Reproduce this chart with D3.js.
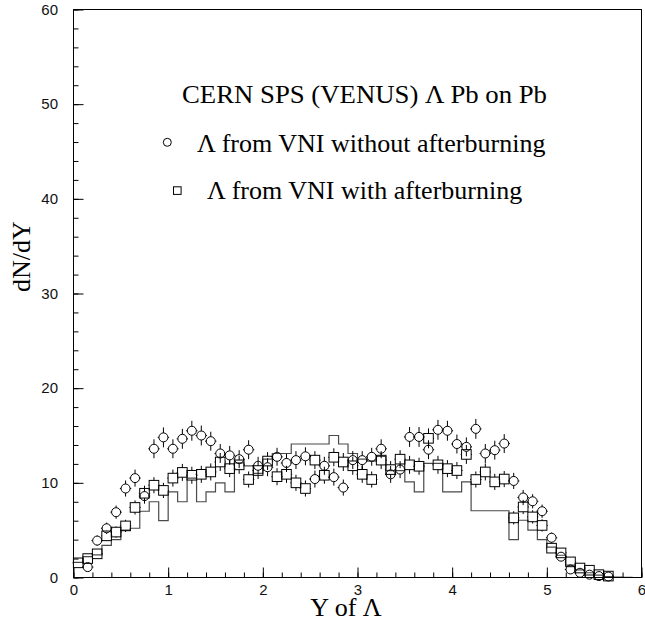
<!DOCTYPE html>
<html><head><meta charset="utf-8">
<script src="https://cdn.jsdelivr.net/npm/d3@7/dist/d3.min.js"></script>
<style>body{margin:0;background:#fff} svg{display:block}</style>
</head><body>
<svg id="c" width="645" height="624"></svg>
<script>
// ---- data ----
const circleX = [0.15,0.25,0.35,0.45,0.55,0.65,0.75,0.85,0.95,1.05,1.15,1.25,1.35,1.45,1.55,1.65,1.75,1.85,1.95,2.05,2.15,2.25,2.35,2.45,2.55,2.65,2.75,2.85,2.95,3.05,3.15,3.25,3.35,3.45,3.55,3.65,3.75,3.85,3.95,4.05,4.15,4.25,4.35,4.45,4.55,4.65,4.75,4.85,4.95,5.05,5.15,5.25,5.35,5.45,5.55,5.65];
const circleY = [1.1,3.9,5.2,6.9,9.4,10.5,8.6,13.6,14.8,13.6,14.65,15.5,15.0,14.4,13.1,12.9,12.5,13.5,11.8,11.65,12.75,12.1,12.4,12.8,10.4,11.8,10.6,9.5,12.4,12.4,12.75,13.6,10.9,11.4,14.85,14.85,13.5,15.6,15.5,14.1,13.8,15.7,13.1,13.45,14.15,10.2,8.45,8.05,7.0,4.2,2.2,0.85,0.5,0.3,0.15,0.1];
const circleErr = [0.3,0.55,0.6,0.7,0.85,0.9,0.8,1.0,1.05,1.0,1.05,1.05,1.05,1.0,1.0,1.0,0.95,1.0,0.95,0.95,0.95,0.95,0.95,0.95,0.9,0.95,0.9,0.85,0.95,0.95,0.95,1.0,0.9,0.9,1.05,1.05,1.0,1.05,1.05,1.0,1.0,1.05,1.0,1.0,1.0,0.85,0.8,0.75,0.7,0.55,0.4,0.25,0.2,0.15,0.1,0.1];

const squareX = [0.05,0.15,0.25,0.35,0.45,0.55,0.65,0.75,0.85,0.95,1.05,1.15,1.25,1.35,1.45,1.55,1.65,1.75,1.85,1.95,2.05,2.15,2.25,2.35,2.45,2.55,2.65,2.75,2.85,2.95,3.05,3.15,3.25,3.35,3.45,3.55,3.65,3.75,3.85,3.95,4.05,4.15,4.25,4.35,4.45,4.55,4.65,4.75,4.85,4.95,5.05,5.15,5.25,5.35,5.45,5.55,5.65];
const squareY = [1.55,2.0,2.5,4.4,4.8,5.45,7.4,8.9,9.75,9.2,10.5,11.1,10.8,10.9,11.15,12.2,11.5,11.9,10.35,11.3,12.3,10.65,10.9,10.0,9.4,12.4,10.8,12.7,12.2,11.8,10.9,10.35,12.4,11.4,12.5,11.9,11.75,14.7,11.9,11.5,11.3,13.0,10.35,11.15,10.1,10.4,6.3,7.45,6.4,5.5,3.1,2.6,1.65,1.0,0.77,0.3,0.15];
const squareErr = [0.35,0.4,0.45,0.55,0.6,0.65,0.75,0.8,0.85,0.8,0.9,0.9,0.9,0.9,0.9,0.95,0.9,0.95,0.85,0.9,0.95,0.9,0.9,0.85,0.85,0.95,0.9,0.95,0.95,0.95,0.9,0.85,0.95,0.9,0.95,0.95,0.9,1.05,0.95,0.9,0.9,1.0,0.85,0.9,0.85,0.85,0.7,0.75,0.7,0.65,0.5,0.45,0.35,0.3,0.25,0.15,0.1];

const histLow = [0.0,0.1,0.2,0.3,0.4,0.5,0.6,0.7,0.8,0.9,1.0,1.1,1.2,1.3,1.4,1.5,1.6,1.7,1.8,1.9,2.0,2.1,2.2,2.3,2.4,2.5,2.6,2.7,2.8,2.9,3.0,3.1,3.2,3.3,3.4,3.5,3.6,3.7,3.8,3.9,4.0,4.1,4.2,4.3,4.4,4.5,4.6,4.7,4.8,4.9,5.0,5.1,5.2,5.3,5.4,5.5,5.6,5.7,5.8,5.9];
const histVal = [1.6,2.2,2.4,3.4,4.0,5.0,5.2,7.0,8.0,6.0,9.05,8.0,10.5,8.0,9.05,10.0,9.05,12.1,11.8,11.0,12.5,13.1,13.1,14.1,14.1,14.1,14.1,15.0,14.1,13.1,12.5,12.3,12.8,11.3,11.3,10.1,9.05,12.05,12.05,9.05,9.05,10.1,7.05,7.05,7.05,7.05,4.0,6.05,5.0,4.0,3.2,2.35,1.3,0.8,0.5,0.25,0.1,0.05,0.02,0.0];
const histHigh = 6.0;
const xErrHalf = 0.06;

const xMajorTicks = [0,1,2,3,4,5,6];
const yMajorTicks = [0,10,20,30,40,50,60];

const titleText = "CERN SPS (VENUS) \u039B Pb on Pb";
const legendLabels = ["\u039B from VNI without afterburning", "\u039B from VNI with afterburning"];
const xTitle = "Y of \u039B";
const yTitle = "dN/dY";

// ---- drawing ----
const svg = d3.select('#c');
const x = d3.scaleLinear().domain([0,6]).range([73.5, 641.5]);
const y = d3.scaleLinear().domain([0,60]).range([577.5, 9.5]);
const sans = "'Liberation Sans', Arial, Helvetica, sans-serif";
const serif = "'Liberation Serif', 'Times New Roman', Times, serif";

svg.append('rect').attr('width',645).attr('height',624).attr('fill','#fff');

// histogram
const histPts = histLow.map((d,i)=>[d, histVal[i]]);
histPts.push([histHigh, histVal[histVal.length-1]]);
svg.append('path')
  .attr('d', d3.line().x(d=>x(d[0])).y(d=>y(d[1])).curve(d3.curveStepAfter)(histPts))
  .attr('fill','none').attr('stroke','#4a4a4a').attr('stroke-width',1.2);

// error bars + markers
function drawSeries(xs, ys, es, type){
  const g = svg.append('g').attr('stroke','#000').attr('stroke-width',1).attr('fill','none');
  const half = type==='circle' ? 4.5 : 4.8;
  xs.forEach((xv,i)=>{
    const cx = x(xv), cy = y(ys[i]);
    const top = y(ys[i]+es[i]), bot = y(Math.max(0, ys[i]-es[i]));
    const lft = x(xv - xErrHalf), rgt = x(xv + xErrHalf);
    const segs = [];
    if (cy - top > half) segs.push([cx, cy-half, cx, top]);
    if (bot - cy > half) segs.push([cx, cy+half, cx, bot]);
    if (cx - lft > half) segs.push([cx-half, cy, lft, cy]);
    if (rgt - cx > half) segs.push([cx+half, cy, rgt, cy]);
    segs.forEach(s=>g.append('line').attr('x1',s[0]).attr('y1',s[1]).attr('x2',s[2]).attr('y2',s[3]));
    if (type==='circle') g.append('circle').attr('cx',cx).attr('cy',cy).attr('r',half);
    else g.append('rect').attr('x',cx-half).attr('y',cy-half).attr('width',2*half).attr('height',2*half);
  });
}
drawSeries(squareX, squareY, squareErr, 'square');
drawSeries(circleX, circleY, circleErr, 'circle');

// frame
svg.append('rect').attr('x',73.5).attr('y',9.5).attr('width',568).attr('height',568)
  .attr('fill','none').attr('stroke','#000').attr('stroke-width',1);

// axes
function styleAxis(g){
  g.select('.domain').remove();
  g.selectAll('.tick line').attr('stroke','#000');
  g.selectAll('.tick text').attr('fill','#111').style('font-family',sans).style('font-size','15px');
}
const gx = svg.append('g').attr('transform','translate(0,577.5)');
gx.call(d3.axisBottom(x).tickValues(d3.range(0,6.01,0.2)).tickSize(-5).tickFormat(''));
gx.call(styleAxis);
const gx2 = svg.append('g').attr('transform','translate(0,577.5)');
gx2.call(d3.axisBottom(x).tickValues(xMajorTicks).tickSize(-10).tickPadding(7).tickFormat(d3.format('d')));
gx2.call(styleAxis);

const gy = svg.append('g').attr('transform','translate(73.5,0)');
gy.call(d3.axisLeft(y).tickValues(d3.range(0,60.1,2)).tickSize(-5).tickFormat(''));
gy.call(styleAxis);
const gy2 = svg.append('g').attr('transform','translate(73.5,0)');
gy2.call(d3.axisLeft(y).tickValues(yMajorTicks).tickSize(-10).tickPadding(15.5).tickFormat(d3.format('d')));
gy2.call(styleAxis);

// titles
svg.append('text').attr('x',346).attr('y',616).attr('text-anchor','middle')
  .style('font-family',serif).style('font-size','26px').text(xTitle);
svg.append('text').attr('transform','translate(30,292) rotate(-90)').attr('text-anchor','start')
  .style('font-family',serif).style('font-size','26px').text(yTitle);

// header + legend
svg.append('text').attr('x',182).attr('y',103).attr('textLength',365).attr('lengthAdjust','spacingAndGlyphs')
  .style('font-family',serif).style('font-size','26px').text(titleText);
svg.append('circle').attr('cx',167.3).attr('cy',142.3).attr('r',4).attr('fill','none').attr('stroke','#000');
svg.append('text').attr('x',197).attr('y',152).style('font-family',serif).style('font-size','26px').text(legendLabels[0]);
svg.append('rect').attr('x',173.5).attr('y',186.8).attr('width',7.6).attr('height',7.6).attr('fill','none').attr('stroke','#000');
svg.append('text').attr('x',207).attr('y',199).style('font-family',serif).style('font-size','26px').text(legendLabels[1]);
</script>
</body></html>
